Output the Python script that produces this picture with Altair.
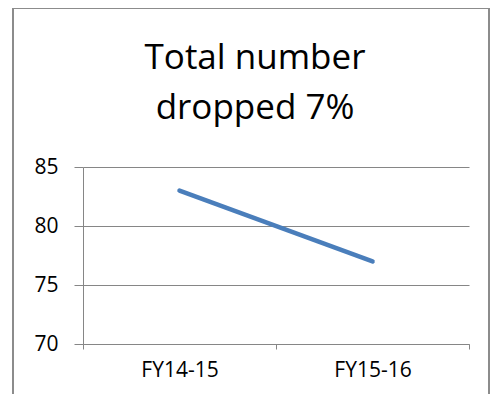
import altair as alt
import pandas as pd

periods = ["FY14-15", "FY15-16"]
values = [83, 77]
y_ticks = [70, 75, 80, 85]
title_lines = ["Total number", "dropped 7%"]

df = pd.DataFrame({"period": periods, "value": values})

FONT = "Open Sans"
GRAY = "#868686"

line = alt.Chart(df).mark_line(color="#4A7EBB", strokeWidth=4.5, strokeCap="round").encode(
    x=alt.X(
        "period:N",
        sort=periods,
        bandPosition=0.5,
        scale=alt.Scale(type="band", paddingInner=0, paddingOuter=0),
        axis=alt.Axis(
            title=None, labelAngle=0, tickBand="extent", tickSize=5, tickColor=GRAY,
            domainColor=GRAY, labelFont=FONT, labelFontSize=21, labelColor="black",
            labelPadding=10, grid=False,
        ),
    ),
    y=alt.Y(
        "value:Q",
        scale=alt.Scale(domain=[70, 85], nice=False, zero=False),
        axis=alt.Axis(
            title=None, values=y_ticks, tickSize=9, tickColor=GRAY, domainColor=GRAY,
            gridColor=GRAY, gridOpacity=1, grid=True, labelFont=FONT, labelFontSize=21,
            labelColor="black", labelPadding=16,
        ),
    ),
)

frame = alt.Chart(alt.Data(values=[{"a": 1}])).mark_rect(
    fill="transparent", stroke="#8C8C8C", strokeWidth=2, clip=False
).encode(
    x=alt.value(-70), x2=alt.value(406), y=alt.value(-159), y2=alt.value(240)
)

title = alt.Chart(alt.Data(values=[{"a": 1}])).mark_text(
    text=title_lines, font=FONT, fontSize=35, color="black", lineHeight=50,
    align="center", baseline="alphabetic", clip=False,
).encode(x=alt.value(172), y=alt.value(-98))

chart = alt.layer(frame, title, line).properties(
    width=386,
    height=177,
    autosize=alt.AutoSizeParams(type="none"),
    padding={"left": 75, "top": 159, "right": 22, "bottom": 50},
    background="white",
).configure_view(strokeWidth=0)

chart.save("out.html", embed_options={"renderer": "svg", "actions": False})
